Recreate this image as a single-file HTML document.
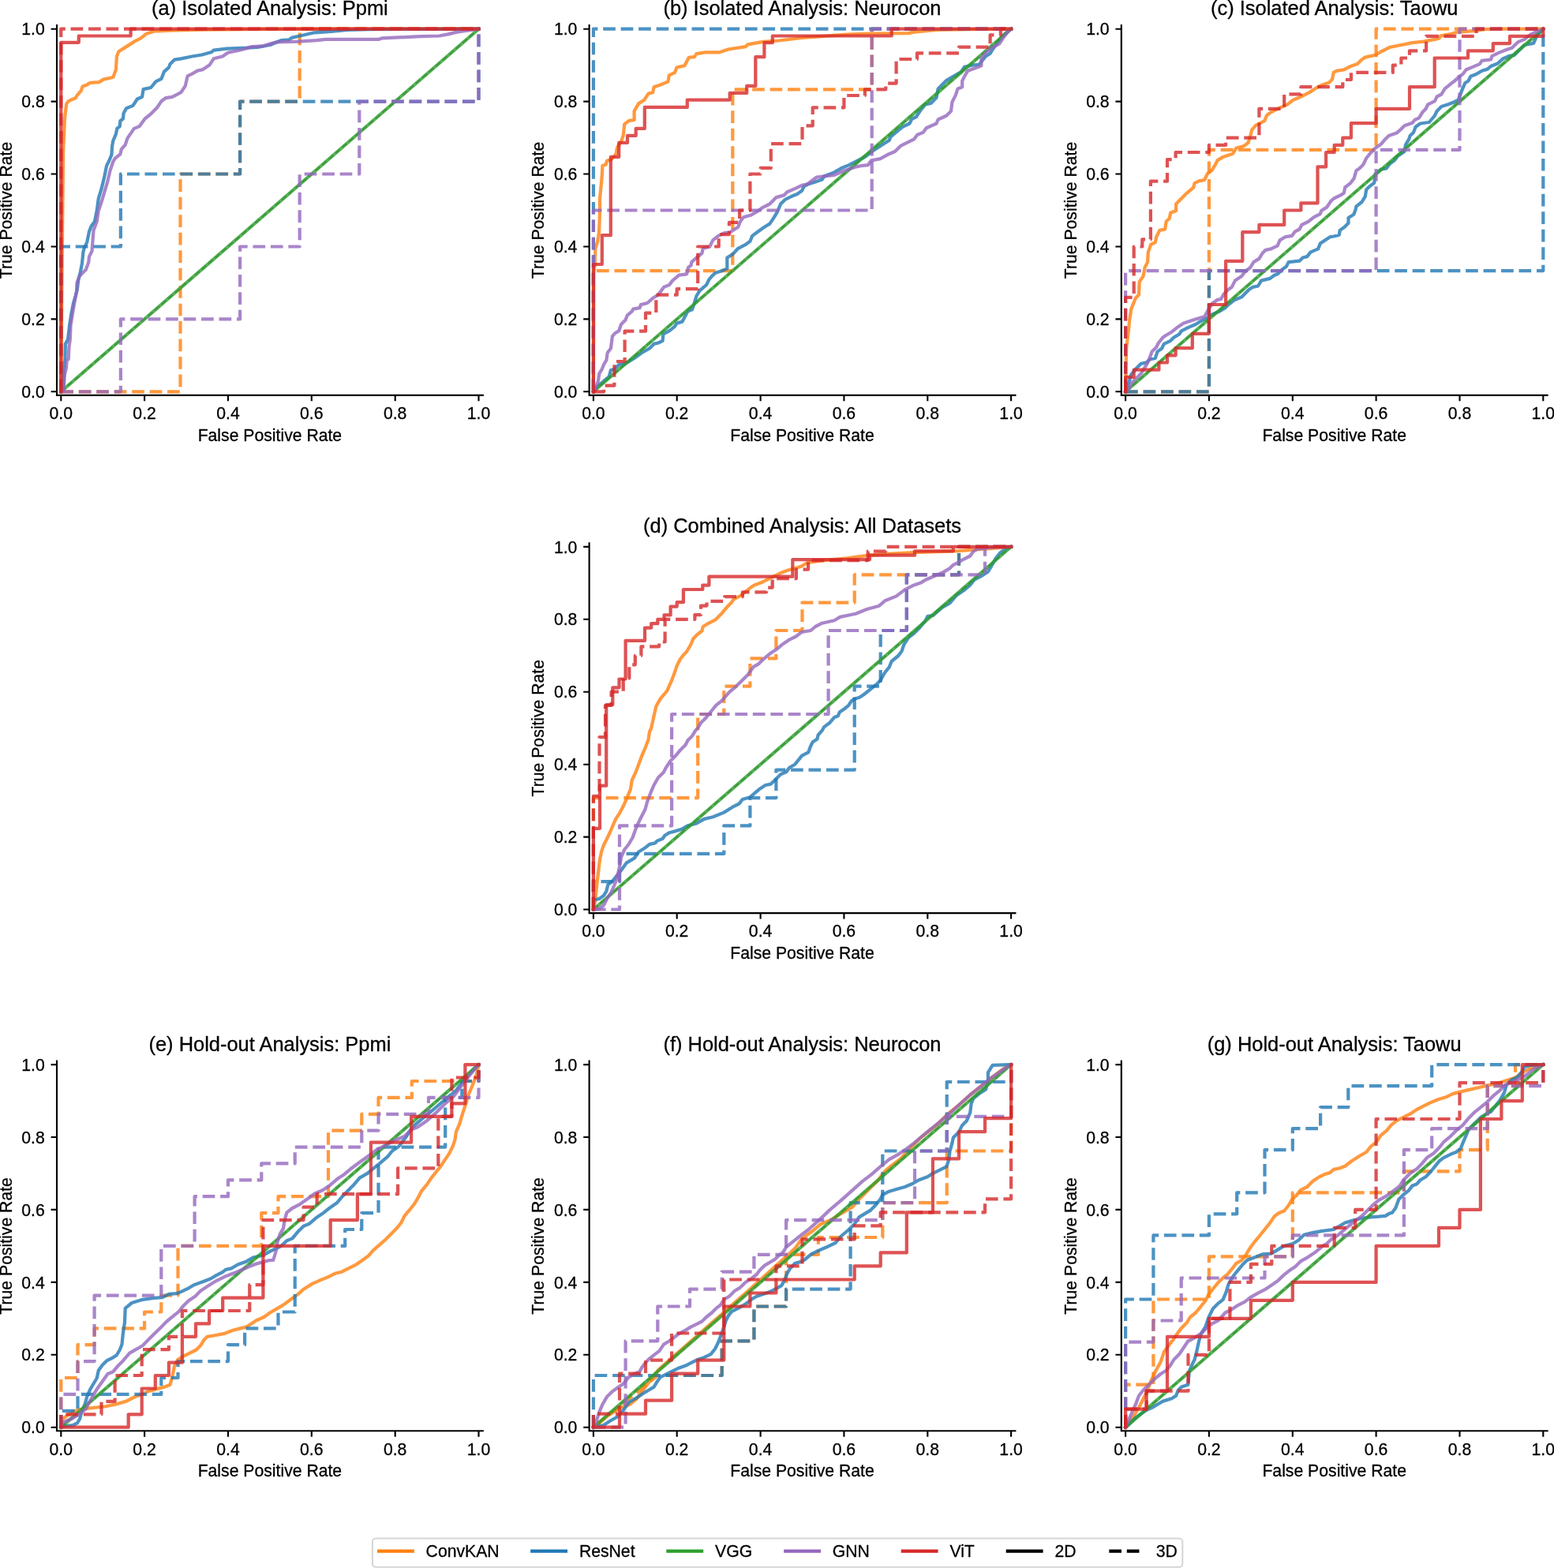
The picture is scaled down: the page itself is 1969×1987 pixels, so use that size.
<!DOCTYPE html>
<html lang="en">
<head>
<meta charset="utf-8">
<title>ROC curves</title>
<style>
html,body{margin:0;padding:0;background:#fff}
body{width:1969px;height:1987px;overflow:hidden}
svg{display:block}
text{font-family:"Liberation Sans", Arial, Helvetica, sans-serif;fill:#000;stroke:#000;stroke-width:0.3px;stroke-linejoin:round}
.xt{font-size:21.2px;text-anchor:middle}
.yt{font-size:21.2px;text-anchor:end}
.xl{font-size:21.2px;text-anchor:middle}
.yl{font-size:21.2px;text-anchor:middle}
.ti{font-size:25.44px;text-anchor:middle}
.lg{font-size:21.2px}
.sp{fill:none;stroke:#000;stroke-width:2.12;stroke-linecap:square;stroke-linejoin:miter}
.tk{fill:none;stroke:#000;stroke-width:2.12}
.cv polyline{fill:none;stroke-width:4.24;stroke-opacity:0.8;stroke-linejoin:round}
.cv .ch{fill:none;stroke:#000;stroke-opacity:0.5;stroke-width:2.12;stroke-dasharray:7.84 3.39}
.cv .s{stroke-linecap:square}
.cv .d{stroke-dasharray:15.69 6.78;stroke-linecap:butt}
</style>
</head>
<body>
<svg width="1969" height="1987" viewBox="0 0 1969 1987">
<rect width="1969" height="1987" fill="#fff"/>
<defs><clipPath id="clip-a"><rect x="72" y="32.1" width="539.8" height="468.8"/></clipPath><clipPath id="clip-b"><rect x="746.6" y="32.1" width="539.8" height="468.8"/></clipPath><clipPath id="clip-c"><rect x="1420.8" y="32.1" width="539.8" height="468.8"/></clipPath><clipPath id="clip-d"><rect x="746.6" y="688.3" width="539.8" height="468.8"/></clipPath><clipPath id="clip-e"><rect x="72" y="1344.5" width="539.8" height="468.8"/></clipPath><clipPath id="clip-f"><rect x="746.6" y="1344.5" width="539.8" height="468.8"/></clipPath><clipPath id="clip-g"><rect x="1420.8" y="1344.5" width="539.8" height="468.8"/></clipPath></defs>
<g class="panel" id="p-a">
<g class="cv" clip-path="url(#clip-a)">
<path class="ch" d="M77.3,496.3L606.5,36.7"/>
<polyline class="s" stroke="#ff7f0e" points="77.3,496.3 78.4,358.4 80.1,190.6 81.2,168.5 81.9,151.8 83.2,139.4 84.2,131.7 86.7,128.3 90.8,126.2 95.7,124.2 97.8,120.7 102.6,115.2 104.7,109.6 110.2,107.5 114.4,104.8 125.5,104.1 131,100.6 137.9,99.2 143.4,97.8 146.9,88.1 147.9,71.5 150.4,65.3 160.1,59.1 171.1,52.1 178.1,48.7 185,43.1 194.7,39.7 215.5,38.6 257,37.6 340,36.9 447.7,36.7 606.5,36.7"/>
<polyline class="d" stroke="#ff7f0e" points="77.3,496.3 228.5,496.3 228.5,220.5 304.1,220.5 304.1,128.6 379.7,128.6 379.7,36.7 606.5,36.7"/>
<polyline class="s" stroke="#1f77b4" points="77.3,496.3 80.5,488.5 81.2,467.8 82.5,455.3 82.8,435.9 86,430.4 88.1,412.4 90.2,398.5 92.9,384.7 95.7,375 97.8,366.7 99.2,355.6 101.9,344.5 104,333.5 105.4,319.6 106.8,314.1 110.2,307.1 113,293.3 115.8,286.4 119.9,280.8 122.7,267 124.8,251.5 128.2,240.4 131.7,226.6 135.1,210 137.9,204.5 141.4,196.1 142.1,185.1 143.4,178.2 146.9,169.8 148.3,162.9 151.8,160.1 152.4,153.2 155.9,150.5 156.6,143.5 160.1,137.3 168.4,133.9 173.9,125.5 180.1,122.8 181.6,113.1 191.2,111 197.4,103.4 204.4,99.9 207.9,90.9 214,85.4 215.5,81.2 221,75.7 229.3,74.3 243.2,71.5 255.6,69.5 268.1,66 270.8,63.6 287.4,61.6 312.4,60.7 326.2,59.8 342,57 356.1,51.2 366,50.4 370.2,47.6 380.1,45.5 398.4,41.3 419.6,39.9 440.8,37.8 469,37.1 553.6,36.8 606.5,36.7 606.5,36.7"/>
<polyline class="d" stroke="#1f77b4" points="77.3,496.3 77.3,312.5 152.9,312.5 152.9,220.5 304.1,220.5 304.1,128.6 606.5,128.6 606.5,36.7"/>
<polyline class="s" stroke="#2ca02c" points="77.3,496.3 606.5,36.7"/>
<polyline class="s" stroke="#9467bd" points="77.3,496.3 80.5,494 81.9,474.7 83.9,466.4 84.6,456.7 86.7,455.3 87.4,440 88.8,430.4 89.5,412.4 91.5,399.9 94.3,383.3 97.1,369.5 97.5,358.4 100.5,350.1 108.8,341.8 112.3,332.1 113,325.1 116.5,318.2 118.5,291.9 122.7,280.8 124.8,267 128.2,257.1 132.4,243.2 136.5,229.4 139.3,216.9 143.4,204.5 146.2,200.3 152.4,195.4 153.8,189.2 158.7,183.7 161.4,175.4 167,167.1 169.8,162.9 176.7,160.1 183.6,150.5 190.5,144.9 198.9,136.6 204.4,128.3 209.9,124.2 218.2,122.8 229.3,117.2 234.8,108.9 237.6,96.4 243.2,93.7 250.1,89.6 257,88.1 265.3,82.6 270.8,74.3 281.9,71.5 288.8,66.7 305.4,63.2 319.3,59.1 333.1,58.4 342,55.6 350.5,53.3 377.3,52.6 401.2,51.2 412.5,49.8 480.2,49.8 484.5,48.3 532.5,46.2 556.4,45.5 567.7,43.4 579,40.6 588.9,39.2 606.5,36.7 606.5,36.7"/>
<polyline class="d" stroke="#9467bd" points="77.3,496.3 152.9,496.3 152.9,404.4 304.1,404.4 304.1,312.5 379.7,312.5 379.7,220.5 455.3,220.5 455.3,128.6 606.5,128.6 606.5,36.7"/>
<polyline class="s" stroke="#d62728" points="77.3,496.3 77.3,53.8 99.8,53.8 99.8,45.5 165.6,45.5 165.6,36.7 606.5,36.7"/>
<polyline class="d" stroke="#d62728" points="77.3,496.3 77.3,36.7 606.5,36.7"/>
</g>
<path class="sp" d="M72,32.1V500.9H611.8"/>
<path class="tk" d="M77.3,500.9v7.4M72,496.3h-7.4M183.1,500.9v7.4M72,404.4h-7.4M289,500.9v7.4M72,312.5h-7.4M394.8,500.9v7.4M72,220.5h-7.4M500.7,500.9v7.4M72,128.6h-7.4M606.5,500.9v7.4M72,36.7h-7.4"/>
<text class="xt" x="77.3" y="531.1">0.0</text>
<text class="yt" x="56.8" y="503.9">0.0</text>
<text class="xt" x="183.1" y="531.1">0.2</text>
<text class="yt" x="56.8" y="412">0.2</text>
<text class="xt" x="289" y="531.1">0.4</text>
<text class="yt" x="56.8" y="320.1">0.4</text>
<text class="xt" x="394.8" y="531.1">0.6</text>
<text class="yt" x="56.8" y="228.1">0.6</text>
<text class="xt" x="500.7" y="531.1">0.8</text>
<text class="yt" x="56.8" y="136.2">0.8</text>
<text class="xt" x="606.5" y="531.1">1.0</text>
<text class="yt" x="56.8" y="44.3">1.0</text>
<text class="xl" x="341.9" y="559">False Positive Rate</text>
<text class="yl" transform="translate(14.7,266.5) rotate(-90)">True Positive Rate</text>
<text class="ti" x="341.9" y="19.1">(a) Isolated Analysis: Ppmi</text>
</g>
<g class="panel" id="p-b">
<g class="cv" clip-path="url(#clip-b)">
<path class="ch" d="M751.9,496.3L1281.1,36.7"/>
<polyline class="s" stroke="#ff7f0e" points="751.9,496.3 752.4,344.6 753.8,336.2 754.4,315.4 757.2,305.7 759,294.7 759.6,280.8 760,267 760,251.5 761.4,237.7 762.7,223.8 763.4,210 767.6,208.6 769,203.8 775.2,201.7 780.7,194.8 782.2,186.4 787,179.5 789.8,171.2 791.2,157.4 796.7,153.2 803.6,151.8 803.6,140.8 809.2,131.1 816.1,126.9 821.6,118.6 827.2,117.2 828.5,110.3 836.8,107.5 846.5,103.4 847.9,95.1 854.8,92.3 857.6,85.4 867.3,83.3 872.8,72.9 879.8,72.2 882.5,68.1 893.6,66.3 911.6,66.3 922.7,62.5 944.8,59.1 947.6,56.3 967,52.8 986.4,51.5 1016,48 1037.3,46.4 1072.9,43.5 1101.3,42.5 1151,42.1 1158.1,40.7 1186.5,37.8 1229.2,37.1 1281.1,36.7"/>
<polyline class="d" stroke="#ff7f0e" points="751.9,496.3 751.9,343.1 928.3,343.1 928.3,113.3 1104.7,113.3 1104.7,36.7 1281.1,36.7"/>
<polyline class="s" stroke="#1f77b4" points="751.9,496.3 755.1,491.3 764.9,483 771.7,477.5 773.9,469.1 778.7,467.8 784.2,462.2 792.5,460.8 803.6,453.9 813.3,447 823,441.5 828.5,435.9 834.1,434.5 839.6,431.8 840.3,423.5 847.9,419.3 854.8,413.8 857.6,409.6 864.5,407.6 871.4,394.4 877,392.3 879.1,386.1 882.5,375 886.7,368.1 895,361.1 898.4,354.2 901.9,350.1 906.1,345.9 914.4,343.2 921.3,340.4 921.3,326.5 928.2,322.4 935.2,314.8 944.8,309.9 950.4,305.7 953.2,298.9 958.7,294.7 968.4,287.8 975.3,283.6 980.8,275.3 985,268.4 989.1,258.5 994.7,252.9 1003,248.8 1009.9,246 1016,241.8 1018.8,236.1 1024.5,233.2 1033.1,230.4 1041.6,227.5 1044.4,223.3 1055.8,219 1065.7,213.3 1075.7,209.1 1087,203.4 1095.6,199.1 1106.9,190.6 1115.5,184.9 1126.8,177.8 1128.3,173.5 1136.8,166.4 1143.9,160.7 1152.5,156.5 1155.3,150.8 1161,148 1166.6,139.4 1172.3,132.3 1179.4,130.9 1186.5,123.8 1188.6,112.4 1193.6,107.4 1199.3,101.8 1207.9,96.8 1217.8,91.1 1222,84.7 1232,82.6 1240.5,81.9 1249.1,71.2 1254.7,67.7 1257.6,62.7 1266.1,51.3 1271.8,44.2 1281,36.7 1281.1,36.7"/>
<polyline class="d" stroke="#1f77b4" points="751.9,496.3 751.9,36.7 1281.1,36.7"/>
<polyline class="s" stroke="#2ca02c" points="751.9,496.3 1281.1,36.7"/>
<polyline class="s" stroke="#9467bd" points="751.9,496.3 753.8,494 757.9,483 759.3,473.3 762.7,467.8 764.9,462.2 768.3,456.7 769.7,447 773.9,441.5 775.9,426.2 779.4,422.1 784.2,419.3 787,411 792.5,405.4 794.6,399.9 800.9,394.4 802.2,391.6 810.5,390.2 811.9,386.1 820.2,384 827.2,377.8 834.1,373.6 841,363.9 847.9,361.1 852.1,355.6 860.4,348.7 870.1,347.3 872.1,339 875.6,336.2 876.3,332.1 882.5,326.5 889.4,321 890.8,314.8 899.1,312.7 903.3,304.4 910.2,298.9 917.2,295.4 925.5,294 935.2,287.8 937.9,280.8 942,275.3 951.8,272.5 958.7,268.4 967,262.6 975.3,258.5 983.6,250.1 993.3,247.4 997.4,243.2 1007.1,239.1 1016,234.9 1023.1,233.2 1034.5,224.7 1044.4,223.3 1057.2,221.8 1070,216.2 1082.8,211.9 1092.8,209.8 1099.8,209.1 1104.1,203.4 1115.5,201.2 1124,196.3 1133.9,192 1141.1,184.9 1158.1,176.4 1162.4,170.7 1169.5,167.9 1173.7,162.2 1186.5,156.5 1188.6,151.5 1199.3,146.5 1205,140.8 1206.4,129.5 1210.7,120.9 1213.5,112.4 1219.2,110.3 1219.2,102.5 1222.8,95.4 1226.3,89.7 1237.7,85.4 1243.4,83.3 1243.4,74.1 1249.1,66.9 1257.6,59.9 1266.1,55.6 1271.8,47 1277.5,40 1281,36.7 1281.1,36.7"/>
<polyline class="d" stroke="#9467bd" points="751.9,496.3 751.9,266.5 1104.7,266.5 1104.7,36.7 1281.1,36.7"/>
<polyline class="s" stroke="#d62728" points="751.9,496.3 751.9,335 762.8,335 762.8,298.2 773.8,298.2 773.8,198.9 784.2,198.9 784.2,180.9 795,180.9 795,171.9 805.7,171.9 805.7,162.9 816.8,162.9 816.8,135.9 870.8,135.9 870.8,126.6 924.7,126.6 924.7,117.9 946.2,117.9 946.2,108.9 957.3,108.9 957.3,72.2 968.4,72.2 968.4,54.2 978.8,54.2 978.8,45.5 1016,45.5 1129.7,45.5 1129.7,36.7 1281.1,36.7"/>
<polyline class="d" stroke="#d62728" points="751.9,496.3 765.1,496.3 765.1,488.6 778.4,488.6 778.4,458 791.6,458 791.6,419.7 818,419.7 818,396.7 831.3,396.7 831.3,373.7 857.7,373.7 857.7,366.1 884.2,366.1 884.2,312.5 910.7,312.5 910.7,297.1 923.9,297.1 923.9,281.8 937.1,281.8 937.1,266.5 950.4,266.5 950.4,220.5 963.6,220.5 963.6,212.9 976.8,212.9 976.8,182.2 1016.5,182.2 1016.5,159.3 1029.7,159.3 1029.7,136.3 1069.4,136.3 1069.4,121 1095.9,121 1095.9,113.3 1122.3,113.3 1122.3,105.6 1135.6,105.6 1135.6,75 1162,75 1162,67.3 1215,67.3 1215,59.7 1254.6,59.7 1254.6,44.4 1267.9,44.4 1267.9,36.7 1281.1,36.7"/>
</g>
<path class="sp" d="M746.6,32.1V500.9H1286.4"/>
<path class="tk" d="M751.9,500.9v7.4M746.6,496.3h-7.4M857.7,500.9v7.4M746.6,404.4h-7.4M963.6,500.9v7.4M746.6,312.5h-7.4M1069.4,500.9v7.4M746.6,220.5h-7.4M1175.3,500.9v7.4M746.6,128.6h-7.4M1281.1,500.9v7.4M746.6,36.7h-7.4"/>
<text class="xt" x="751.9" y="531.1">0.0</text>
<text class="yt" x="731.4" y="503.9">0.0</text>
<text class="xt" x="857.7" y="531.1">0.2</text>
<text class="yt" x="731.4" y="412">0.2</text>
<text class="xt" x="963.6" y="531.1">0.4</text>
<text class="yt" x="731.4" y="320.1">0.4</text>
<text class="xt" x="1069.4" y="531.1">0.6</text>
<text class="yt" x="731.4" y="228.1">0.6</text>
<text class="xt" x="1175.3" y="531.1">0.8</text>
<text class="yt" x="731.4" y="136.2">0.8</text>
<text class="xt" x="1281.1" y="531.1">1.0</text>
<text class="yt" x="731.4" y="44.3">1.0</text>
<text class="xl" x="1016.5" y="559">False Positive Rate</text>
<text class="yl" transform="translate(689.3,266.5) rotate(-90)">True Positive Rate</text>
<text class="ti" x="1016.5" y="19.1">(b) Isolated Analysis: Neurocon</text>
</g>
<g class="panel" id="p-c">
<g class="cv" clip-path="url(#clip-c)">
<path class="ch" d="M1426.1,496.3L1955.3,36.7"/>
<polyline class="s" stroke="#ff7f0e" points="1426.1,496.3 1427.2,441.1 1429.9,419.3 1431.2,405.4 1433.3,391.6 1436.1,384.7 1438.9,377.8 1443,373.6 1443.7,357 1448.5,350.1 1450.6,339 1454.1,332.1 1454.8,319.6 1458.2,309.9 1463.8,307.1 1465.2,300.2 1469.3,291.9 1476.2,290.5 1477.6,280.8 1481.8,276.7 1483.1,269.8 1490.1,267 1490.1,258.5 1497,251.5 1503.9,244.6 1512.2,237.7 1513.6,232.1 1519.1,229.4 1526.1,228 1530.2,219.7 1535.8,215.5 1539.9,208.6 1542.7,203.1 1549.6,198.9 1562.1,194.8 1566.2,187.8 1575.9,185.1 1581.5,180.9 1584.2,172.6 1586.3,164.3 1591.2,158.8 1602.2,153.2 1605,146.3 1610.5,142.1 1621.6,136.6 1631.3,132.4 1638.2,126.9 1647.9,122.8 1659,117.2 1667.3,111.7 1675.6,107.5 1683.9,104.8 1688.1,100.6 1689.7,91.6 1694.2,89.7 1702.8,88.3 1711.3,84 1719.9,81.1 1725.5,75.5 1729.8,72.6 1742.6,69.8 1749.7,65.5 1761,59.9 1775.3,57 1789.5,54.2 1803.7,52.7 1817.9,49.9 1823.6,48.5 1825,45.6 1839.2,42.8 1846.3,40.7 1867.7,39.2 1881.8,37.1 1903.2,36.7 1955.3,36.7"/>
<polyline class="d" stroke="#ff7f0e" points="1426.1,496.3 1531.9,496.3 1531.9,189.9 1743.6,189.9 1743.6,36.7 1955.3,36.7"/>
<polyline class="s" stroke="#1f77b4" points="1426.1,496.3 1429.2,488.5 1433.3,474.7 1438.9,467.8 1445.8,460.8 1452.7,459.4 1456.8,455.3 1463.8,453.9 1466.5,445.6 1472.1,441.5 1474.8,435.9 1483.1,431.8 1487.3,427.6 1494.2,423.5 1497,419.3 1505.3,415.1 1515,411 1521.9,406.8 1530.2,402.7 1535.8,398.5 1545.4,394.4 1552.4,390.2 1556.5,386.1 1563.4,380.5 1573.2,376.4 1577.3,372.2 1582.8,366.7 1587,363.9 1593.9,362.5 1598.1,355.6 1609.2,352.9 1614.7,348.7 1618.8,347.3 1624.4,341.8 1629.9,337.6 1632.7,332.1 1646.5,330.7 1650.7,326.5 1656.2,325.1 1660.4,319.6 1670.1,315.4 1672.8,308.6 1681.1,303 1685.3,300.2 1690,299.5 1696.8,297.7 1697.7,291.9 1703.5,287.7 1708.5,282.7 1708.5,276 1715.3,271.8 1717.7,265.1 1718.4,261.6 1725.5,256 1729.8,248.9 1731.2,240.3 1735.5,236.1 1741.2,231.8 1742.6,220.4 1749.7,214.7 1756.8,213.3 1761,207.6 1766.7,203.4 1771,197.7 1779.6,192 1780.9,183.5 1785.2,176.4 1786.6,172.1 1790.9,167.9 1793.7,160.7 1799.5,156.5 1810.8,155 1817.9,146.5 1820.7,140.8 1826.4,135.1 1835,132.3 1842.1,129.5 1847.8,126.6 1852,115.2 1856.3,105.3 1860.5,102.5 1863.4,96.8 1870.5,94 1877.6,89.7 1884.7,87.6 1888.9,84 1897.5,80.5 1904.6,74.1 1911.7,71.2 1918.8,69.8 1924.5,64.1 1931.6,57 1943,54.9 1947.2,45.6 1955.3,36.7 1955.3,36.7"/>
<polyline class="d" stroke="#1f77b4" points="1426.1,496.3 1531.9,496.3 1531.9,343.1 1955.3,343.1 1955.3,36.7"/>
<polyline class="s" stroke="#2ca02c" points="1426.1,496.3 1955.3,36.7"/>
<polyline class="s" stroke="#9467bd" points="1426.1,496.3 1429.2,494 1433.3,485.8 1438.9,480.2 1445.8,473.3 1452.7,462.2 1455.5,456.7 1459.6,445.6 1465.2,440 1467.9,434.5 1473.5,427.6 1477.6,424.8 1484.5,420.7 1491.5,415.1 1499.8,409.6 1508.1,406.8 1516.4,404.1 1526.1,401.3 1531.6,391.6 1535.8,384.7 1542.7,379.8 1546.9,379.1 1551,372.2 1556.5,366.7 1560.7,363.9 1564.9,355.6 1573.2,350.1 1577.3,344.5 1584.2,339 1588.4,332.1 1595.3,327.9 1599.5,321 1603.6,316.8 1610.5,315.4 1618.8,311.3 1621.6,304.4 1628.5,300.2 1636.8,298.9 1641,293.3 1646.5,290.5 1649.3,285 1657.6,280.8 1664.5,275.3 1672.8,271.1 1674.2,267 1681.1,262.6 1686.7,254.3 1690,251.5 1698.5,247.4 1702.8,244.6 1704.2,237.5 1711.3,231.8 1715.6,226.1 1718.4,216.2 1722.7,213.3 1727,209.1 1731.2,200.5 1736.9,193.4 1742.6,187.7 1749.7,182.8 1753.9,177.8 1759.7,172.1 1769.6,168.6 1775.3,163.6 1779.6,159.3 1789.5,155.8 1792.3,152.2 1798,149.4 1802.3,142.3 1806.5,138 1809.3,132.3 1817.9,128.1 1820.7,122.4 1826.4,119.5 1830.7,112.4 1837.8,106.7 1844.9,101 1849.1,96.8 1853.4,94 1857.7,88.3 1864.8,85.4 1874.8,81.1 1877.6,76.9 1888.9,75.5 1890.4,71.2 1898.9,66.9 1906,64.1 1916,60.6 1923.1,53.4 1931.6,49.9 1938.7,44.2 1945.8,40.7 1955.3,36.7 1955.3,36.7"/>
<polyline class="d" stroke="#9467bd" points="1426.1,496.3 1426.1,343.1 1743.6,343.1 1743.6,189.9 1849.5,189.9 1849.5,36.7 1955.3,36.7"/>
<polyline class="s" stroke="#d62728" points="1426.1,496.3 1426.1,477.9 1436.7,477.9 1436.7,468.7 1468.4,468.7 1468.4,459.5 1479,459.5 1479,450.3 1489.6,450.3 1489.6,441.1 1510.8,441.1 1510.8,422.8 1531.9,422.8 1531.9,386 1553.1,386 1553.1,330.8 1574.3,330.8 1574.3,294.1 1595.4,294.1 1595.4,284.9 1627.2,284.9 1627.2,266.5 1648.4,266.5 1648.4,257.3 1669.5,257.3 1669.5,211.3 1680.1,211.3 1680.1,193 1690.7,193 1690.7,183.8 1701.3,183.8 1701.3,174.6 1711.9,174.6 1711.9,156.2 1743.6,156.2 1743.6,137.8 1786,137.8 1786,110.2 1817.7,110.2 1817.7,73.5 1860,73.5 1860,64.3 1891.8,64.3 1891.8,55.1 1913,55.1 1913,45.9 1955.3,45.9 1955.3,36.7"/>
<polyline class="d" stroke="#d62728" points="1426.1,496.3 1426.1,376.8 1436.7,376.8 1436.7,312.5 1447.3,312.5 1447.3,303.3 1457.9,303.3 1457.9,229.7 1479,229.7 1479,202.2 1489.6,202.2 1489.6,193 1531.9,193 1531.9,183.8 1553.1,183.8 1553.1,174.6 1595.4,174.6 1595.4,137.8 1627.2,137.8 1627.2,119.4 1648.4,119.4 1648.4,110.2 1701.3,110.2 1701.3,101 1711.9,101 1711.9,91.9 1764.8,91.9 1764.8,82.7 1775.4,82.7 1775.4,73.5 1786,73.5 1786,64.3 1807.1,64.3 1807.1,45.9 1870.6,45.9 1870.6,36.7 1955.3,36.7"/>
</g>
<path class="sp" d="M1420.8,32.1V500.9H1960.6"/>
<path class="tk" d="M1426.1,500.9v7.4M1420.8,496.3h-7.4M1531.9,500.9v7.4M1420.8,404.4h-7.4M1637.8,500.9v7.4M1420.8,312.5h-7.4M1743.6,500.9v7.4M1420.8,220.5h-7.4M1849.5,500.9v7.4M1420.8,128.6h-7.4M1955.3,500.9v7.4M1420.8,36.7h-7.4"/>
<text class="xt" x="1426.1" y="531.1">0.0</text>
<text class="yt" x="1405.6" y="503.9">0.0</text>
<text class="xt" x="1531.9" y="531.1">0.2</text>
<text class="yt" x="1405.6" y="412">0.2</text>
<text class="xt" x="1637.8" y="531.1">0.4</text>
<text class="yt" x="1405.6" y="320.1">0.4</text>
<text class="xt" x="1743.6" y="531.1">0.6</text>
<text class="yt" x="1405.6" y="228.1">0.6</text>
<text class="xt" x="1849.5" y="531.1">0.8</text>
<text class="yt" x="1405.6" y="136.2">0.8</text>
<text class="xt" x="1955.3" y="531.1">1.0</text>
<text class="yt" x="1405.6" y="44.3">1.0</text>
<text class="xl" x="1690.7" y="559">False Positive Rate</text>
<text class="yl" transform="translate(1363.5,266.5) rotate(-90)">True Positive Rate</text>
<text class="ti" x="1690.7" y="19.1">(c) Isolated Analysis: Taowu</text>
</g>
<g class="panel" id="p-d">
<g class="cv" clip-path="url(#clip-d)">
<path class="ch" d="M751.9,1152.5L1281.1,692.9"/>
<polyline class="s" stroke="#ff7f0e" points="751.9,1152.5 754.4,1139 755.9,1123.8 757.9,1107.1 760,1089.2 762.1,1079.5 764.2,1072.5 767.6,1065.6 771.7,1057.3 775.9,1047.6 780.1,1037.9 785.6,1029.6 791.2,1018.5 795.3,1008.8 798.8,1000.6 800.9,988.1 805,979.8 809.2,968.7 813.3,957.6 817.5,947.9 821.6,936.9 823,927.2 825.1,923 828.5,907.5 831.3,895.1 836.8,885.4 845.1,875.7 850.7,863.2 854.8,852.2 857.6,843.8 861.8,835.5 865.9,830 870.1,825.8 875.6,816.2 878.4,809.2 883.9,803.7 889.4,799.5 890.8,794 897.7,789.8 906.1,785.7 914.4,777.4 921.3,769.1 926.9,763.5 929.6,759.4 937.9,755.2 944.8,749.7 951.8,744.1 955.9,741.4 967,737.2 978.1,731.7 989.1,726.1 1000.2,722 1008.5,719.9 1016,717.2 1023.1,713 1044.4,710.2 1072.9,707.3 1101.3,703.7 1129.7,701.6 1158.1,700.2 1215,698.1 1243.4,695.9 1264.7,694.5 1281,692.9 1281.1,692.9"/>
<polyline class="d" stroke="#ff7f0e" points="751.9,1152.5 751.9,1011.1 884.2,1011.1 884.2,905 917.3,905 917.3,869.7 950.4,869.7 950.4,834.3 983.4,834.3 983.4,799 1016.5,799 1016.5,763.6 1082.7,763.6 1082.7,728.3 1215,728.3 1215,692.9 1281.1,692.9"/>
<polyline class="s" stroke="#1f77b4" points="751.9,1152.5 752.4,1140.4 759.3,1139 764.9,1134.9 768.3,1129.3 770.4,1121 775.9,1116.8 781.5,1109.9 787,1103 793.9,1093.3 803.6,1087.7 809.2,1079.5 816.1,1075.3 823,1069.8 829.9,1068.4 832.7,1065.6 839.6,1062.8 842.4,1058.7 847.9,1055.2 856.2,1053.1 864.5,1050.4 871.4,1046.2 882.5,1043.4 892.2,1037.9 903.3,1035.2 917.2,1029.6 928.2,1022.7 936.5,1018.5 940.7,1013 950.4,1010.2 961.5,1000.6 969.8,995 976.7,993.6 983.6,986.7 989.1,981.2 996.1,978.4 1000.2,972.8 1007.1,968.7 1012.7,961.8 1016,957.6 1024.2,953.4 1027,945.8 1029.8,940.2 1035.5,936.4 1036.5,931.7 1042.1,925.1 1044,921.4 1051.5,915.7 1057.1,909.1 1061.8,907.3 1063.7,902.6 1070.3,897.9 1075,894.1 1078.7,888.5 1082.5,885.7 1089.1,883.8 1094.7,880 1109.8,867.9 1115.5,862.2 1121.2,852.3 1126.8,845.2 1129.7,838 1138.2,831 1142.5,825.3 1145.3,816.8 1151,808.2 1158.1,802.5 1165.2,795.4 1172.3,786.9 1175.2,781.2 1182.2,779.8 1193.6,769.8 1203.6,764.1 1212.1,754.2 1220.7,748.5 1229.2,741.4 1234.8,734.3 1243.4,730 1251.9,724.4 1256.2,717.3 1261.8,707.3 1267.6,700.2 1274.6,695.2 1281,692.9 1281.1,692.9"/>
<polyline class="d" stroke="#1f77b4" points="751.9,1152.5 751.9,1117.1 785,1117.1 785,1081.8 917.3,1081.8 917.3,1046.4 950.4,1046.4 950.4,1011.1 983.4,1011.1 983.4,975.7 1082.7,975.7 1082.7,869.7 1115.7,869.7 1115.7,799 1148.8,799 1148.8,728.3 1215,728.3 1215,692.9 1281.1,692.9"/>
<polyline class="s" stroke="#2ca02c" points="751.9,1152.5 1281.1,692.9"/>
<polyline class="s" stroke="#9467bd" points="751.9,1152.5 759.3,1151.4 764.9,1147.3 769,1139 774.5,1130.7 778.7,1121 782.2,1111.3 784.9,1098.8 787,1086.4 791.2,1076.7 796.7,1069.8 801.5,1061.5 805,1051.8 807.8,1044.9 811.9,1036.5 817.5,1025.5 820.2,1015.8 824.4,1004.7 828.5,995 834.1,985.3 841,978.4 843.8,972.8 849.3,964.5 856.2,957.6 861.8,950.7 868.7,943.7 871.4,938.2 877,932.7 881.1,925.8 883.9,923 888.1,915.9 895,908.9 900.6,902 907.4,893.7 914.4,888.1 924,877.1 932.4,870.1 939.3,863.2 947.6,854.9 954.5,845.2 961.5,841.1 967,835.5 975.3,828.6 983.6,823.1 991.9,816.2 1000.2,810.6 1008.5,806.5 1016,800.9 1027.3,799 1033.1,794 1041.6,789.7 1057.2,786.2 1064.3,781.9 1084.2,777.7 1098.4,772 1114,767.7 1121.2,761.3 1135.4,755.6 1146.7,747.1 1158.1,741.4 1166.6,738.6 1172.3,735 1183.7,730 1195.1,725.1 1203.6,720.1 1207.9,715.8 1215,712.3 1220.7,708.8 1229.2,704.5 1233.4,698.8 1237.7,695.9 1250.5,693.8 1281,692.9 1281.1,692.9"/>
<polyline class="d" stroke="#9467bd" points="751.9,1152.5 785,1152.5 785,1046.4 851.1,1046.4 851.1,905 1049.6,905 1049.6,799 1148.8,799 1148.8,728.3 1248,728.3 1248,692.9 1281.1,692.9"/>
<polyline class="s" stroke="#d62728" points="751.9,1152.5 751.9,1049.8 760,1049.8 760,995.7 768.2,995.7 768.2,893 776.3,893 776.3,871.3 784.5,871.3 784.5,860.5 792.6,860.5 792.6,811.9 817,811.9 817,795.6 825.2,795.6 825.2,790.2 833.3,790.2 833.3,784.8 841.5,784.8 841.5,779.4 849.6,779.4 849.6,768.6 857.7,768.6 857.7,763.2 865.9,763.2 865.9,747 890.3,747 890.3,741.6 898.4,741.6 898.4,730.7 1004.3,730.7 1004.3,709.1 1102,709.1 1102,703.7 1159,703.7 1159,698.3 1207.8,698.3 1207.8,692.9 1281.1,692.9"/>
<polyline class="d" stroke="#d62728" points="751.9,1152.5 751.9,1008.9 759.5,1008.9 759.5,934.2 767,934.2 767,894 774.6,894 774.6,876.7 789.7,876.7 789.7,859.5 797.3,859.5 797.3,842.3 804.8,842.3 804.8,830.8 812.4,830.8 812.4,819.3 835.1,819.3 835.1,813.5 842.6,813.5 842.6,784.8 880.4,784.8 880.4,779.1 888,779.1 888,767.6 895.5,767.6 895.5,761.8 918.2,761.8 918.2,756.1 940.9,756.1 940.9,750.3 971.1,750.3 971.1,744.6 978.7,744.6 978.7,733.1 1008.9,733.1 1008.9,721.6 1024.1,721.6 1024.1,710.1 1099.7,710.1 1099.7,698.6 1122.3,698.6 1122.3,692.9 1281.1,692.9"/>
</g>
<path class="sp" d="M746.6,688.3V1157.1H1286.4"/>
<path class="tk" d="M751.9,1157.1v7.4M746.6,1152.5h-7.4M857.7,1157.1v7.4M746.6,1060.6h-7.4M963.6,1157.1v7.4M746.6,968.7h-7.4M1069.4,1157.1v7.4M746.6,876.7h-7.4M1175.3,1157.1v7.4M746.6,784.8h-7.4M1281.1,1157.1v7.4M746.6,692.9h-7.4"/>
<text class="xt" x="751.9" y="1187.3">0.0</text>
<text class="yt" x="731.4" y="1160.1">0.0</text>
<text class="xt" x="857.7" y="1187.3">0.2</text>
<text class="yt" x="731.4" y="1068.2">0.2</text>
<text class="xt" x="963.6" y="1187.3">0.4</text>
<text class="yt" x="731.4" y="976.3">0.4</text>
<text class="xt" x="1069.4" y="1187.3">0.6</text>
<text class="yt" x="731.4" y="884.3">0.6</text>
<text class="xt" x="1175.3" y="1187.3">0.8</text>
<text class="yt" x="731.4" y="792.4">0.8</text>
<text class="xt" x="1281.1" y="1187.3">1.0</text>
<text class="yt" x="731.4" y="700.5">1.0</text>
<text class="xl" x="1016.5" y="1215.2">False Positive Rate</text>
<text class="yl" transform="translate(689.3,922.7) rotate(-90)">True Positive Rate</text>
<text class="ti" x="1016.5" y="675.3">(d) Combined Analysis: All Datasets</text>
</g>
<g class="panel" id="p-e">
<g class="cv" clip-path="url(#clip-e)">
<path class="ch" d="M77.3,1808.7L606.5,1349.1"/>
<polyline class="s" stroke="#ff7f0e" points="77.3,1808.7 78.4,1799.1 85.3,1793.6 95,1788.1 104.7,1785.3 118.5,1783.9 132.4,1782.5 146.2,1779.7 160.1,1775.6 171.1,1770 179.4,1767.3 187.7,1763.2 197.4,1760.4 208.5,1757.6 215.5,1754.8 218.2,1745.1 221,1731.3 225.2,1723 232.1,1718.8 239,1715.4 248.7,1710.5 254.2,1705 258.4,1698.1 262.5,1693.9 270.8,1692.5 284.7,1689.8 295.8,1685.6 312.4,1681.4 324.8,1673.2 334.5,1669 342,1663.5 350.5,1658.6 359,1653.6 367.6,1647.2 377.5,1640.1 384.7,1633.7 396,1626.6 407.4,1621.6 415.9,1618.1 424.4,1613.8 433,1611.7 441.5,1607.4 450,1603.2 458.5,1597.5 467.1,1591.1 472.7,1584.7 478.4,1579.7 487,1572.2 495.5,1563.7 502.6,1556.6 508.3,1549.5 512.5,1540.9 519.7,1532.4 525.3,1525.3 531,1515.4 533.8,1509.7 540.9,1501.2 546.6,1492.6 552.3,1485.5 558,1478.4 563.7,1469.9 569.4,1461.4 573.6,1452.8 576.5,1444.3 577.9,1434.4 582.2,1424.4 586.4,1410.2 590.7,1397.4 593.5,1387.5 597.8,1377.5 602.1,1366.2 604.9,1357.6 606.4,1349.1 606.5,1349.1"/>
<polyline class="d" stroke="#ff7f0e" points="77.3,1808.7 77.3,1746 98.5,1746 98.5,1704.2 119.6,1704.2 119.6,1683.4 183.1,1683.4 183.1,1662.5 204.3,1662.5 204.3,1641.6 225.5,1641.6 225.5,1578.9 331.3,1578.9 331.3,1537.1 352.5,1537.1 352.5,1516.2 416,1516.2 416,1432.7 458.3,1432.7 458.3,1411.8 479.5,1411.8 479.5,1390.9 521.8,1390.9 521.8,1370 606.5,1370 606.5,1349.1"/>
<polyline class="s" stroke="#1f77b4" points="77.3,1808.7 79.8,1807.5 92.2,1806.1 97.8,1803.3 101.2,1797.8 103.3,1789.4 107.5,1779.7 110.2,1770 114.4,1760.4 118.5,1753.5 122.7,1746.5 124.8,1736.8 129.6,1729.9 135.1,1724.4 142.1,1720.9 147.6,1717.5 151.8,1710.5 154.5,1703.6 155.9,1689.8 158,1675.9 158.7,1657.9 167,1651 180.9,1646.8 194.7,1644.8 205.7,1644.1 214,1639.9 223.8,1639.2 230.7,1636.4 239,1632.3 245.9,1628.2 255.6,1624.7 266.7,1620.5 273.6,1616.4 281.9,1612.2 286.1,1608.8 293,1607.4 301.3,1602.5 312.4,1598.4 320.7,1593.5 333.1,1590.8 342,1585.9 356.2,1579 363.3,1572.2 370.4,1569.4 377.5,1560.8 384.7,1553.8 391.8,1550.9 401.7,1542.4 410.2,1536.7 417.3,1531 427.3,1523.9 434.4,1515.4 441.5,1508.3 447.2,1502.6 455.7,1492.6 465.6,1486.9 474.1,1479.9 481.3,1474.2 491.2,1465.7 496.9,1458.5 505.4,1452.8 513.9,1441.5 519.7,1432.9 525.3,1425.9 533.8,1418.7 542.4,1411.7 550.9,1404.5 560.8,1396 569.4,1388.9 577.9,1381.8 586.4,1370.4 595,1360.5 600.6,1354.8 606.4,1349.1 606.5,1349.1"/>
<polyline class="d" stroke="#1f77b4" points="77.3,1808.7 77.3,1787.8 98.5,1787.8 98.5,1766.9 204.3,1766.9 204.3,1746 225.5,1746 225.5,1725.1 289,1725.1 289,1704.2 310.1,1704.2 310.1,1683.4 352.5,1683.4 352.5,1662.5 373.7,1662.5 373.7,1578.9 437.2,1578.9 437.2,1558 458.3,1558 458.3,1537.1 479.5,1537.1 479.5,1453.6 564.2,1453.6 564.2,1390.9 585.3,1390.9 585.3,1370 606.5,1370 606.5,1349.1"/>
<polyline class="s" stroke="#2ca02c" points="77.3,1808.7 606.5,1349.1"/>
<polyline class="s" stroke="#9467bd" points="77.3,1808.7 78.4,1803.3 90.8,1797.8 100.5,1792.2 108.8,1785.3 113,1777 117.1,1770 122.7,1760.4 129.6,1750.7 136.5,1741 143.4,1738.2 149,1731.3 155.9,1724.4 164.2,1714.7 173.9,1709.2 180.9,1705 187.7,1698.1 194.7,1691.1 203,1682.9 211.3,1674.5 219.6,1667.6 226.5,1662.1 232.1,1655.1 239,1648.2 247.3,1642.7 254.2,1635.8 262.5,1630.2 273.6,1623.3 284.7,1617.8 295.8,1613.6 305.4,1609.5 315.1,1605.3 326.2,1601.1 335.9,1598.4 342,1597 346.2,1597 349.1,1587.5 351.2,1579 351.2,1575 354.8,1563.7 359,1556.6 360.5,1546.6 363.3,1536.7 370.4,1531 378.9,1526.7 388.9,1519.7 398.8,1512.5 408.8,1508.3 417.3,1502.6 427.3,1494.1 435.8,1488.4 444.3,1481.3 455.7,1472.7 465.6,1465.7 477,1457.1 488.4,1451.4 498.3,1445.8 512.5,1440.1 521,1431.6 529.6,1428 540.9,1420.2 552.3,1410.2 563.7,1398.8 575.1,1388.9 583.6,1377.5 592.1,1366.2 600.6,1356.2 606.4,1349.1 606.5,1349.1"/>
<polyline class="d" stroke="#9467bd" points="77.3,1808.7 77.3,1766.9 98.5,1766.9 98.5,1725.1 119.6,1725.1 119.6,1641.6 204.3,1641.6 204.3,1578.9 246.6,1578.9 246.6,1516.2 289,1516.2 289,1495.3 331.3,1495.3 331.3,1474.4 373.7,1474.4 373.7,1453.6 458.3,1453.6 458.3,1432.7 479.5,1432.7 479.5,1411.8 543,1411.8 543,1390.9 606.5,1390.9 606.5,1349.1"/>
<polyline class="s" stroke="#d62728" points="77.3,1808.7 162.7,1808.7 162.7,1792.3 179.7,1792.3 179.7,1759.5 196.8,1759.5 196.8,1743 213.9,1743 213.9,1726.6 230.9,1726.6 230.9,1693.8 248,1693.8 248,1677.4 265.1,1677.4 265.1,1661 282.2,1661 282.2,1644.6 333.4,1644.6 333.4,1578.9 418.7,1578.9 418.7,1546.1 452.9,1546.1 452.9,1513.2 469.9,1513.2 469.9,1447.6 521.1,1447.6 521.1,1414.8 572.4,1414.8 572.4,1398.3 589.4,1398.3 589.4,1349.1 606.5,1349.1"/>
<polyline class="d" stroke="#d62728" points="77.3,1808.7 77.3,1792.3 128.5,1792.3 128.5,1775.9 145.6,1775.9 145.6,1743 179.7,1743 179.7,1710.2 213.9,1710.2 213.9,1693.8 230.9,1693.8 230.9,1661 316.3,1661 316.3,1628.1 333.4,1628.1 333.4,1546.1 384.6,1546.1 384.6,1529.7 401.6,1529.7 401.6,1513.2 504.1,1513.2 504.1,1480.4 555.3,1480.4 555.3,1414.8 572.4,1414.8 572.4,1365.5 606.5,1365.5 606.5,1349.1"/>
</g>
<path class="sp" d="M72,1344.5V1813.3H611.8"/>
<path class="tk" d="M77.3,1813.3v7.4M72,1808.7h-7.4M183.1,1813.3v7.4M72,1716.8h-7.4M289,1813.3v7.4M72,1624.9h-7.4M394.8,1813.3v7.4M72,1532.9h-7.4M500.7,1813.3v7.4M72,1441h-7.4M606.5,1813.3v7.4M72,1349.1h-7.4"/>
<text class="xt" x="77.3" y="1843.5">0.0</text>
<text class="yt" x="56.8" y="1816.3">0.0</text>
<text class="xt" x="183.1" y="1843.5">0.2</text>
<text class="yt" x="56.8" y="1724.4">0.2</text>
<text class="xt" x="289" y="1843.5">0.4</text>
<text class="yt" x="56.8" y="1632.5">0.4</text>
<text class="xt" x="394.8" y="1843.5">0.6</text>
<text class="yt" x="56.8" y="1540.5">0.6</text>
<text class="xt" x="500.7" y="1843.5">0.8</text>
<text class="yt" x="56.8" y="1448.6">0.8</text>
<text class="xt" x="606.5" y="1843.5">1.0</text>
<text class="yt" x="56.8" y="1356.7">1.0</text>
<text class="xl" x="341.9" y="1871.4">False Positive Rate</text>
<text class="yl" transform="translate(14.7,1578.9) rotate(-90)">True Positive Rate</text>
<text class="ti" x="341.9" y="1331.5">(e) Hold-out Analysis: Ppmi</text>
</g>
<g class="panel" id="p-f">
<g class="cv" clip-path="url(#clip-f)">
<path class="ch" d="M751.9,1808.7L1281.1,1349.1"/>
<polyline class="s" stroke="#ff7f0e" points="751.9,1808.7 771.7,1792.9 785.6,1783.9 798.1,1779.7 806.4,1772.9 813.3,1763.2 823,1750.7 834.1,1736.1 847.9,1723.7 861.8,1711.6 875.6,1699.5 889.4,1687.3 903.3,1675.2 917.2,1663.1 931,1650.7 944.8,1638.6 958.7,1626.1 972.5,1613.6 986.4,1601.1 1000.2,1588.7 1008.5,1580.4 1016,1569.4 1030.2,1559.4 1040.2,1550.9 1051.5,1546.6 1062.9,1539.5 1080,1529.6 1089.9,1518.2 1101.3,1506.8 1112.7,1495.5 1121.2,1484.1 1129.7,1477 1141.1,1468.5 1152.5,1455.7 1165.2,1442.9 1172.3,1437.2 1186.5,1425.9 1200.8,1411.7 1215,1400.3 1229.2,1387.5 1243.4,1376.1 1257.6,1364.7 1271.8,1354.1 1281,1349.1 1281.1,1349.1"/>
<polyline class="d" stroke="#ff7f0e" stroke-dashoffset="20" points="751.9,1808.7 833.3,1743 914.7,1743 914.7,1699.3 955.4,1699.3 955.4,1655.5 996.1,1655.5 996.1,1589.8 1036.9,1589.8 1036.9,1568 1118.3,1568 1118.3,1524.2 1199.7,1524.2 1199.7,1458.5 1281.1,1458.5 1281.1,1349.1"/>
<polyline class="s" stroke="#1f77b4" points="751.9,1808.7 756.6,1807.5 764.9,1806.1 773.2,1800.5 782.9,1795 791.2,1785.3 796.7,1777 806.4,1771.5 814.7,1765.9 821.6,1761.8 828.5,1757.6 832.7,1750.7 836.8,1745.1 842.4,1742.4 850.7,1738.2 859,1734.1 870.1,1729.9 878.4,1725.7 883.9,1723 892.2,1720.2 900.6,1716.1 906.1,1709.2 910.2,1700.8 914.4,1689.8 917.2,1681.4 919.9,1673.2 922.7,1667.6 926.9,1662.1 935.2,1657.9 944.8,1652.4 951.8,1646.8 958.7,1642.7 967,1639.9 975.3,1637.1 983.6,1633 990.5,1628.9 994.7,1620.5 997.4,1613.6 1001.6,1606.7 1007.1,1601.1 1016,1598.4 1019.3,1596.5 1027.8,1589.4 1036.3,1585.1 1046.3,1580.8 1058.6,1575 1065.7,1566.5 1075.7,1558 1082.8,1550.9 1088.5,1542.4 1095.6,1538.1 1102.7,1533.9 1109.8,1526.7 1115.5,1519.7 1118.3,1514 1126.8,1509.7 1136.8,1506.8 1146.7,1504 1156.7,1499.8 1163.8,1495.5 1175.2,1491.2 1182.2,1486.9 1190.8,1482.7 1199.3,1478.4 1202.1,1469.9 1203.6,1458.5 1206.4,1448.6 1207.9,1441.5 1215,1434.4 1219.2,1425.9 1224.9,1420.2 1229.2,1410.2 1230.6,1398.8 1233.4,1391.8 1240.5,1386.1 1249.1,1380.4 1251.9,1370.4 1251.9,1359.1 1257.6,1349.8 1281,1349.1 1281.1,1349.1"/>
<polyline class="d" stroke="#1f77b4" points="751.9,1808.7 751.9,1743 914.7,1743 914.7,1699.3 955.4,1699.3 955.4,1655.5 996.1,1655.5 996.1,1633.6 1077.6,1633.6 1077.6,1524.2 1118.3,1524.2 1118.3,1458.5 1199.7,1458.5 1199.7,1371 1281.1,1371 1281.1,1349.1"/>
<polyline class="s" stroke="#2ca02c" points="751.9,1808.7 1281.1,1349.1"/>
<polyline class="s" stroke="#9467bd" points="751.9,1808.7 753.8,1806.1 756.6,1797.8 759.3,1789.4 763.4,1779.7 769,1770 775.9,1763.2 782.9,1758.3 789.8,1753.5 796.7,1745.1 803.6,1741 810.5,1738.2 813.3,1732.7 818.8,1725.7 823,1721.6 829.9,1716.1 835.5,1711.9 841,1703.6 847.9,1699.5 853.5,1695.3 860.4,1689.8 868.7,1685.6 875.6,1681.4 883.9,1677.3 889.4,1674.5 895,1669 901.9,1663.5 907.4,1657.9 913,1653.8 917.2,1646.8 924,1642.7 931,1635.8 937.9,1631.6 944.8,1624.7 951.8,1620.5 958.7,1615 962.8,1609.5 968.4,1603.9 975.3,1599.8 982.2,1595.6 986.4,1591.4 991.9,1587.3 996.1,1580.4 1016,1564.4 1024.5,1558 1037.3,1546.6 1051.5,1533.1 1065.7,1521.1 1080,1508.3 1092.8,1496.9 1104.1,1488.4 1115.5,1478.4 1126.8,1469.2 1138.2,1462.8 1146.7,1457.1 1158.1,1448.6 1172.3,1436.5 1186.5,1425.1 1200.8,1413.1 1215,1400.3 1229.2,1387.5 1243.4,1376.1 1257.6,1364.7 1271.8,1354.8 1281,1349.1 1281.1,1349.1"/>
<polyline class="d" stroke="#9467bd" points="751.9,1808.7 792.6,1808.7 792.6,1699.3 833.3,1699.3 833.3,1655.5 874,1655.5 874,1633.6 914.7,1633.6 914.7,1611.7 955.4,1611.7 955.4,1589.8 996.1,1589.8 996.1,1546.1 1118.3,1546.1 1118.3,1524.2 1159,1524.2 1159,1458.5 1199.7,1458.5 1199.7,1414.8 1281.1,1414.8 1281.1,1349.1"/>
<polyline class="s" stroke="#d62728" points="751.9,1808.7 785,1808.7 785,1791.7 818,1791.7 818,1774.7 851.1,1774.7 851.1,1740.6 884.2,1740.6 884.2,1723.6 917.3,1723.6 917.3,1655.5 950.4,1655.5 950.4,1638.5 983.4,1638.5 983.4,1621.5 1082.7,1621.5 1082.7,1604.4 1115.7,1604.4 1115.7,1587.4 1148.8,1587.4 1148.8,1536.3 1181.9,1536.3 1181.9,1468.3 1215,1468.3 1215,1434.2 1248,1434.2 1248,1417.2 1281.1,1417.2 1281.1,1349.1"/>
<polyline class="d" stroke="#d62728" points="751.9,1808.7 751.9,1791.7 785,1791.7 785,1740.6 818,1740.6 818,1723.6 851.1,1723.6 851.1,1689.5 917.3,1689.5 917.3,1621.5 983.4,1621.5 983.4,1604.4 1016.5,1604.4 1016.5,1570.4 1082.7,1570.4 1082.7,1553.4 1115.7,1553.4 1115.7,1536.3 1248,1536.3 1248,1519.3 1281.1,1519.3 1281.1,1349.1"/>
</g>
<path class="sp" d="M746.6,1344.5V1813.3H1286.4"/>
<path class="tk" d="M751.9,1813.3v7.4M746.6,1808.7h-7.4M857.7,1813.3v7.4M746.6,1716.8h-7.4M963.6,1813.3v7.4M746.6,1624.9h-7.4M1069.4,1813.3v7.4M746.6,1532.9h-7.4M1175.3,1813.3v7.4M746.6,1441h-7.4M1281.1,1813.3v7.4M746.6,1349.1h-7.4"/>
<text class="xt" x="751.9" y="1843.5">0.0</text>
<text class="yt" x="731.4" y="1816.3">0.0</text>
<text class="xt" x="857.7" y="1843.5">0.2</text>
<text class="yt" x="731.4" y="1724.4">0.2</text>
<text class="xt" x="963.6" y="1843.5">0.4</text>
<text class="yt" x="731.4" y="1632.5">0.4</text>
<text class="xt" x="1069.4" y="1843.5">0.6</text>
<text class="yt" x="731.4" y="1540.5">0.6</text>
<text class="xt" x="1175.3" y="1843.5">0.8</text>
<text class="yt" x="731.4" y="1448.6">0.8</text>
<text class="xt" x="1281.1" y="1843.5">1.0</text>
<text class="yt" x="731.4" y="1356.7">1.0</text>
<text class="xl" x="1016.5" y="1871.4">False Positive Rate</text>
<text class="yl" transform="translate(689.3,1578.9) rotate(-90)">True Positive Rate</text>
<text class="ti" x="1016.5" y="1331.5">(f) Hold-out Analysis: Neurocon</text>
</g>
<g class="panel" id="p-g">
<g class="cv" clip-path="url(#clip-g)">
<path class="ch" d="M1426.1,1808.7L1955.3,1349.1"/>
<polyline class="s" stroke="#ff7f0e" points="1426.1,1808.7 1427.8,1806.1 1436.1,1795 1444.4,1781.1 1452.7,1764.5 1458.2,1750.7 1463.8,1738.2 1470.7,1725.7 1474.8,1713.3 1481.8,1703.6 1487.3,1696.7 1492.8,1688.4 1497,1682.9 1503.9,1675.9 1508.1,1669 1515,1663.5 1521.9,1655.1 1527.4,1648.2 1531.6,1639.9 1537.1,1633 1544.1,1624.7 1549.6,1619.2 1555.2,1615 1562.1,1606.7 1566.2,1601.1 1573.2,1597 1578.7,1590.1 1582.8,1583.2 1585.6,1579 1591.2,1571.8 1598.1,1563.5 1603.6,1556.6 1609.2,1549.7 1614.7,1541.4 1620.2,1537.2 1627.1,1534.5 1632.7,1527.5 1636.8,1520.6 1642.4,1515.1 1647.9,1508.1 1656.2,1504 1663.1,1497 1671.4,1491.5 1678.4,1488.1 1685.3,1486 1690,1481.8 1697.1,1480.5 1704.2,1477.7 1712.7,1471.3 1721.3,1465.7 1731.2,1460 1736.9,1452.8 1744,1447.2 1749.7,1438.6 1756.8,1432.9 1762.5,1425.9 1769.6,1420.2 1778.1,1415.9 1786.6,1411.7 1795.2,1406 1803.7,1401.7 1812.2,1397.4 1822.2,1393.2 1832.1,1390.3 1840.6,1386.1 1849.1,1383.9 1860.5,1381.1 1873.3,1378.2 1881.8,1376.1 1891.8,1374 1903.2,1371.1 1911.7,1368.3 1920.2,1365.5 1928.7,1359.1 1937.3,1354.8 1945.8,1351.9 1955.3,1349.1 1955.3,1349.1"/>
<polyline class="d" stroke="#ff7f0e" points="1426.1,1808.7 1426.1,1754.6 1461.4,1754.6 1461.4,1646.5 1531.9,1646.5 1531.9,1592.4 1637.8,1592.4 1637.8,1511.3 1778.9,1511.3 1778.9,1484.3 1849.5,1484.3 1849.5,1457.2 1884.7,1457.2 1884.7,1376.1 1920,1376.1 1920,1349.1 1955.3,1349.1"/>
<polyline class="s" stroke="#1f77b4" points="1426.1,1808.7 1427.8,1807.5 1438.9,1796.4 1452.7,1786.7 1459.6,1783.9 1466.5,1779.7 1473.5,1775.6 1484.5,1772.2 1490.1,1768.7 1492.8,1761.8 1497,1757.6 1505.3,1754.8 1506.7,1738.2 1510.8,1728.5 1513.6,1723 1516.4,1711.9 1519.1,1699.5 1521.9,1689.8 1527.4,1681.4 1531.6,1669 1537.1,1657.9 1542.7,1652.4 1549.6,1646.8 1553.7,1637.1 1556.5,1627.5 1562.1,1617.8 1567.6,1610.8 1574.5,1602.5 1580,1597 1591.2,1592.8 1599.5,1589.4 1610.5,1588.7 1617.5,1584.6 1624.4,1580.4 1627.1,1579 1638.2,1576 1645.1,1571.8 1652.1,1564.9 1663.1,1562.1 1674.2,1560.1 1690,1558 1690,1558 1697.1,1553.8 1704.2,1549.5 1714.1,1546.6 1725.5,1543.8 1736.9,1542.4 1746.8,1541.7 1755.4,1540.9 1759.7,1538.1 1763.9,1536.7 1768.2,1531 1772.4,1519.7 1778.1,1514 1785.2,1508.3 1789.5,1502.6 1795.2,1500.4 1799.5,1495.5 1806.5,1491.2 1812.2,1485.5 1817.9,1478.4 1823.6,1471.3 1829.2,1467.1 1837.8,1462.8 1844.9,1460 1850.6,1455.7 1853.4,1448.6 1857.7,1438.6 1860.5,1431.6 1869,1423 1876.2,1415.9 1883.3,1411.7 1888.9,1408.8 1894.7,1401.7 1900.3,1394.6 1906,1384.6 1908.8,1374.7 1914.6,1369 1923.1,1364.7 1928.7,1357.6 1931.6,1351.9 1940.1,1349.8 1955.3,1349.1 1955.3,1349.1"/>
<polyline class="d" stroke="#1f77b4" points="1426.1,1808.7 1426.1,1646.5 1461.4,1646.5 1461.4,1565.4 1531.9,1565.4 1531.9,1538.3 1567.2,1538.3 1567.2,1511.3 1602.5,1511.3 1602.5,1457.2 1637.8,1457.2 1637.8,1430.2 1673.1,1430.2 1673.1,1403.2 1708.3,1403.2 1708.3,1376.1 1814.2,1376.1 1814.2,1349.1 1955.3,1349.1"/>
<polyline class="s" stroke="#2ca02c" points="1426.1,1808.7 1955.3,1349.1"/>
<polyline class="s" stroke="#9467bd" points="1426.1,1808.7 1427.8,1804.7 1433.3,1792.2 1438.9,1779.7 1443,1768.7 1448.5,1761.8 1455.5,1754.8 1462.4,1747.9 1470.7,1741 1477.6,1736.8 1483.1,1729.9 1487.3,1723 1494.2,1716.1 1499.8,1707.8 1505.3,1699.5 1513.6,1695.3 1521.9,1689.8 1530.2,1681.4 1535.8,1677.3 1544.1,1673.2 1552.4,1663.5 1560.7,1659.3 1569,1653.8 1577.3,1649.6 1584.2,1644.1 1593.9,1638.6 1602.2,1634.4 1610.5,1628.9 1618.8,1623.3 1625.8,1616.4 1632.7,1610.8 1641,1605.3 1647.9,1598.4 1657.6,1592.8 1665.9,1587.3 1672.8,1581.7 1675.6,1579 1681.1,1576 1686.7,1570.4 1690,1569.1 1690,1569.1 1697.1,1563.7 1707.1,1555.2 1715.6,1548.1 1725.5,1540.9 1732.6,1533.9 1739.8,1526.7 1746.8,1521.1 1756.8,1515.4 1766.7,1508.3 1773.8,1502.6 1778.1,1495.5 1786.6,1486.9 1795.2,1481.3 1800.8,1475.6 1808,1467.1 1816.5,1461.4 1823.6,1454.3 1829.2,1447.2 1837.8,1440.1 1844.9,1432.9 1853.4,1425.9 1860.5,1417.3 1869,1408.8 1876.2,1403.1 1883.3,1397.4 1891.8,1388.9 1900.3,1381.8 1907.4,1374.7 1913.1,1372.5 1924.5,1367.6 1934.4,1361.9 1943,1354.8 1950.1,1351.3 1955.3,1349.1 1955.3,1349.1"/>
<polyline class="d" stroke="#9467bd" points="1426.1,1808.7 1426.1,1700.6 1461.4,1700.6 1461.4,1673.5 1496.7,1673.5 1496.7,1619.5 1602.5,1619.5 1602.5,1592.4 1637.8,1592.4 1637.8,1565.4 1778.9,1565.4 1778.9,1457.2 1814.2,1457.2 1814.2,1430.2 1884.7,1430.2 1884.7,1376.1 1955.3,1376.1 1955.3,1349.1"/>
<polyline class="s" stroke="#d62728" points="1426.1,1808.7 1426.1,1785.7 1452.6,1785.7 1452.6,1762.7 1479,1762.7 1479,1693.8 1531.9,1693.8 1531.9,1670.8 1584.9,1670.8 1584.9,1647.8 1637.8,1647.8 1637.8,1624.9 1743.6,1624.9 1743.6,1578.9 1823,1578.9 1823,1555.9 1849.5,1555.9 1849.5,1532.9 1875.9,1532.9 1875.9,1418 1902.4,1418 1902.4,1395.1 1928.8,1395.1 1928.8,1349.1 1955.3,1349.1"/>
<polyline class="d" stroke="#d62728" points="1426.1,1808.7 1426.1,1785.7 1452.6,1785.7 1452.6,1762.7 1505.5,1762.7 1505.5,1716.8 1531.9,1716.8 1531.9,1670.8 1558.4,1670.8 1558.4,1624.9 1584.9,1624.9 1584.9,1601.9 1611.3,1601.9 1611.3,1578.9 1690.7,1578.9 1690.7,1555.9 1717.2,1555.9 1717.2,1532.9 1743.6,1532.9 1743.6,1418 1849.5,1418 1849.5,1372.1 1955.3,1372.1 1955.3,1349.1"/>
</g>
<path class="sp" d="M1420.8,1344.5V1813.3H1960.6"/>
<path class="tk" d="M1426.1,1813.3v7.4M1420.8,1808.7h-7.4M1531.9,1813.3v7.4M1420.8,1716.8h-7.4M1637.8,1813.3v7.4M1420.8,1624.9h-7.4M1743.6,1813.3v7.4M1420.8,1532.9h-7.4M1849.5,1813.3v7.4M1420.8,1441h-7.4M1955.3,1813.3v7.4M1420.8,1349.1h-7.4"/>
<text class="xt" x="1426.1" y="1843.5">0.0</text>
<text class="yt" x="1405.6" y="1816.3">0.0</text>
<text class="xt" x="1531.9" y="1843.5">0.2</text>
<text class="yt" x="1405.6" y="1724.4">0.2</text>
<text class="xt" x="1637.8" y="1843.5">0.4</text>
<text class="yt" x="1405.6" y="1632.5">0.4</text>
<text class="xt" x="1743.6" y="1843.5">0.6</text>
<text class="yt" x="1405.6" y="1540.5">0.6</text>
<text class="xt" x="1849.5" y="1843.5">0.8</text>
<text class="yt" x="1405.6" y="1448.6">0.8</text>
<text class="xt" x="1955.3" y="1843.5">1.0</text>
<text class="yt" x="1405.6" y="1356.7">1.0</text>
<text class="xl" x="1690.7" y="1871.4">False Positive Rate</text>
<text class="yl" transform="translate(1363.5,1578.9) rotate(-90)">True Positive Rate</text>
<text class="ti" x="1690.7" y="1331.5">(g) Hold-out Analysis: Taowu</text>
</g>
<g id="legend">
<rect x="471.9" y="1949.5" width="1026.4" height="36.3" rx="4.2" ry="4.2" fill="#fff" stroke="#d6d6d6" stroke-width="2.08"/>
<path d="M477.9,1965.6h46.9" stroke="#ff7f0e" stroke-width="4.24" fill="none"/>
<text class="lg" x="539.6" y="1973.2">ConvKAN</text>
<path d="M672.1,1965.6h46.9" stroke="#1f77b4" stroke-width="4.24" fill="none"/>
<text class="lg" x="733.9" y="1973.2">ResNet</text>
<path d="M844.3,1965.6h46.9" stroke="#2ca02c" stroke-width="4.24" fill="none"/>
<text class="lg" x="906.1" y="1973.2">VGG</text>
<path d="M993.1,1965.6h46.9" stroke="#9467bd" stroke-width="4.24" fill="none"/>
<text class="lg" x="1054.7" y="1973.2">GNN</text>
<path d="M1141.7,1965.6h46.9" stroke="#d62728" stroke-width="4.24" fill="none"/>
<text class="lg" x="1203.4" y="1973.2">ViT</text>
<path d="M1274.7,1965.6h46.9" stroke="#000" stroke-width="4.24" fill="none"/>
<text class="lg" x="1336.4" y="1973.2">2D</text>
<path d="M1405.3,1965.6h42.4" stroke="#000" stroke-width="4.24" stroke-dasharray="15.69 6.78" fill="none"/>
<text class="lg" x="1464.8" y="1973.2">3D</text>
</g>
</svg>
</body>
</html>
